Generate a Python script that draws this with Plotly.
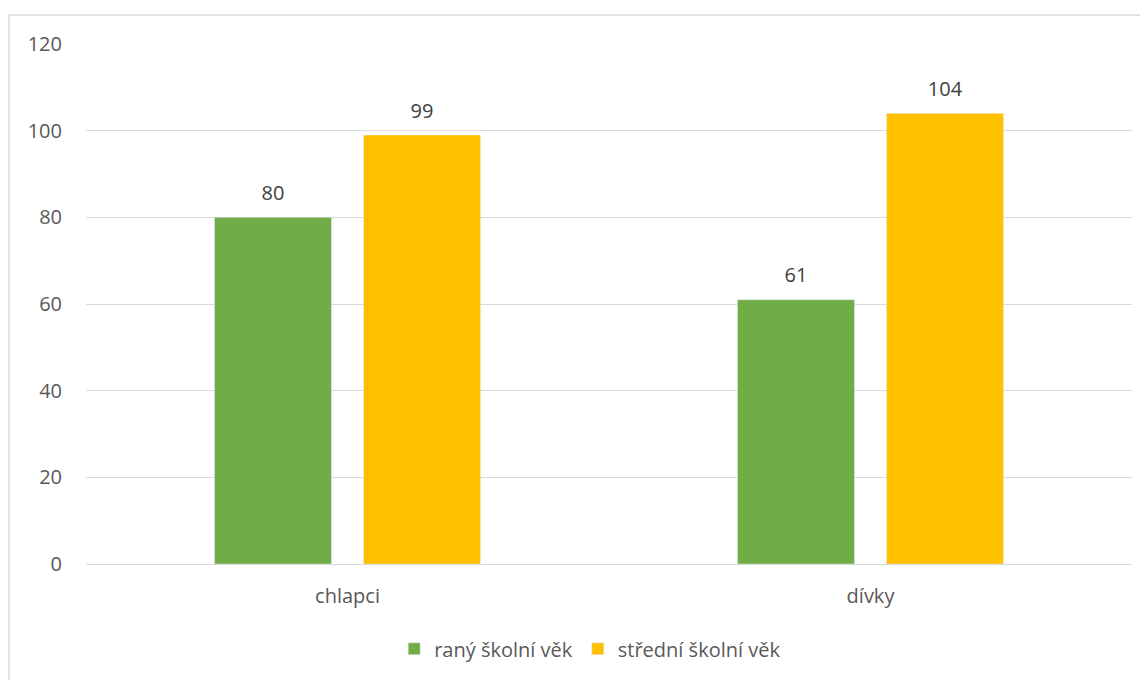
import plotly.graph_objects as go

categories = ["chlapci", "dívky"]
series_names = ["raný školní věk", "střední školní věk"]
early_values = [80, 61]
middle_values = [99, 104]
colors = ["#70AD47", "#FFC000"]

# page body has an 8px margin; compensate
W, H = 1140, 672
ml, mr, mt, mb = 78, 16, 36, 116
pw, ph = W - ml - mr, H - mt - mb

FONT = "'Open Sans', 'Noto Sans', sans-serif"
FS = 20

fig = go.Figure()
for i, (name, vals, col) in enumerate(zip(series_names, [early_values, middle_values], colors)):
    fig.add_trace(go.Bar(
        x=categories, y=vals, name=name, marker_color=col,
        offsetgroup=str(i), alignmentgroup="a", hoverinfo="skip",
    ))
for i, vals in enumerate([early_values, middle_values]):
    fig.add_trace(go.Scatter(
        x=categories, y=vals, mode="markers+text", text=[str(v) for v in vals],
        textposition="top center", textfont=dict(family=FONT, size=FS, color="#404040"),
        marker=dict(size=18, opacity=0), showlegend=False, hoverinfo="skip",
        offsetgroup=str(i), alignmentgroup="a", cliponaxis=False,
    ))

fig.update_layout(
    width=W, height=H,
    margin=dict(l=ml, r=mr, t=mt, b=mb),
    paper_bgcolor="white", plot_bgcolor="white",
    font=dict(family=FONT, size=FS, color="#595959"),
    barmode="group", bargap=0.43, bargroupgap=0.215,
    scattermode="group", scattergap=0.43,
    showlegend=True,
    legend=dict(orientation="h", x=0.482, xanchor="center", y=-0.163, yanchor="middle",
                font=dict(family=FONT, size=FS, color="#595959"), itemwidth=30,
                traceorder="normal", bgcolor="rgba(0,0,0,0)"),
)
fig.update_yaxes(range=[0, 120], dtick=20, showgrid=True, gridcolor="#D9D9D9", gridwidth=1,
                 zeroline=True, zerolinecolor="#D9D9D9", zerolinewidth=1,
                 showline=False, ticks="", ticklabelstandoff=23,
                 tickfont=dict(family=FONT, size=FS, color="#595959"))
fig.update_xaxes(showgrid=False, showline=False, ticks="", ticklabelstandoff=18,
                 tickfont=dict(family=FONT, size=FS, color="#595959"))

# outer border (left at page x=9, top at page y=15; right/bottom beyond view)
x0 = (1 - ml) / pw
x1 = (W + 4 - ml) / pw
y1 = (ph + mt - 7) / ph
y0 = -(mb + 4) / ph
fig.add_shape(type="rect", xref="paper", yref="paper", x0=x0, x1=x1, y0=y0, y1=y1,
              line=dict(color="#D9D9D9", width=1.5), fillcolor="rgba(0,0,0,0)", layer="below")

fig.write_html("out.html")
